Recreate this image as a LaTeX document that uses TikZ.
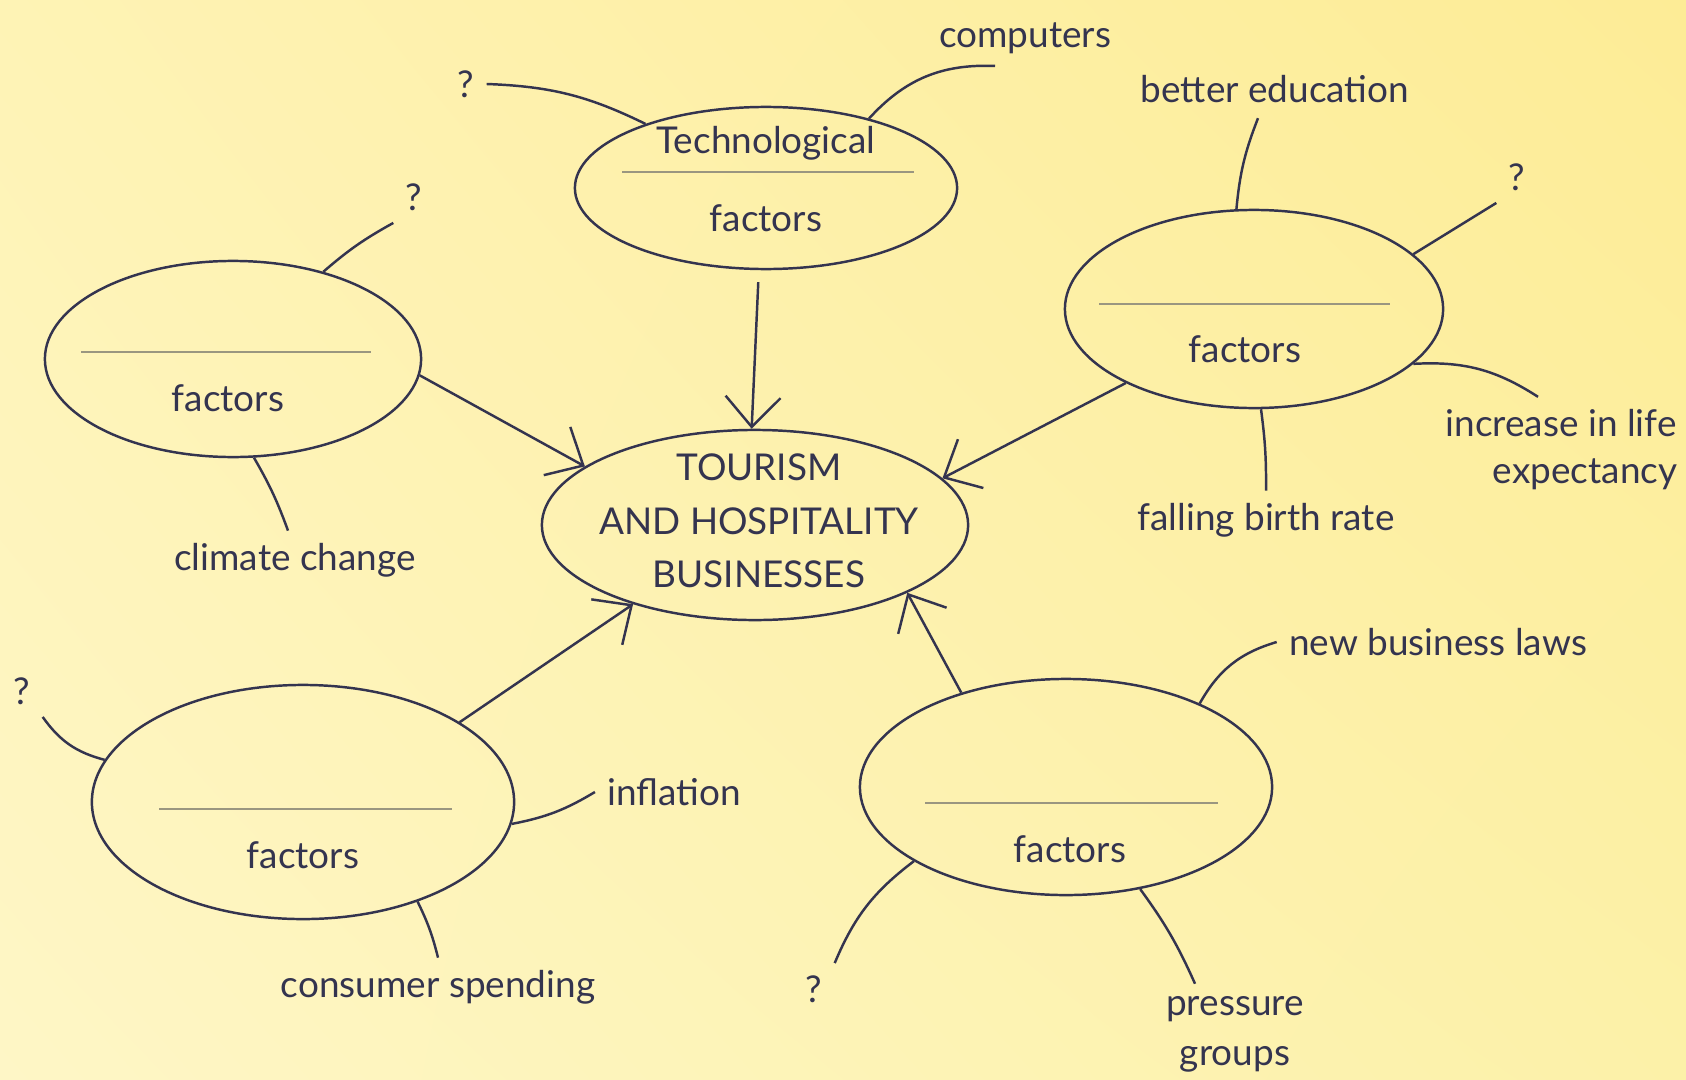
\documentclass[tikz,border=0pt]{standalone}
\usepackage{fontspec}
\setmainfont{Lato}
\usepackage{xcolor}
\usetikzlibrary{shapes.geometric,arrows.meta,calc,shadings}
\definecolor{ink}{HTML}{34344F}
\definecolor{rule}{HTML}{9A9680}
\definecolor{bgTL}{HTML}{FEF3B5}
\definecolor{bgTR}{HTML}{FDEC96}
\definecolor{bgBL}{HTML}{FEF6C6}
\definecolor{bgBR}{HTML}{FCF1A8}

\begin{document}
\begin{tikzpicture}[
  x=0.01cm, y=-0.01cm,
  every node/.style={font=\fontsize{10.5}{13}\selectfont,text=ink},
  bubble/.style={ellipse,draw=ink,line width=0.7pt,inner sep=0pt},
  spoke/.style={draw=ink,line width=0.7pt},
  arrow/.style={draw=ink,line width=0.7pt,-{Straight Barb[length=3mm,width=5.5mm]}},
  divider/.style={draw=rule,line width=0.45pt}
]
% background
\shade[upper left=bgTL,upper right=bgTR,lower left=bgBL,lower right=bgBR] (0,0) rectangle (1686,1079);
\useasboundingbox (0,0) rectangle (1686,1079);

% bubbles
\node[bubble,minimum width=4.26cm,minimum height=1.90cm] (hub) at (755,525) {};
\node[bubble,minimum width=3.82cm,minimum height=1.62cm] (tech) at (766,188) {};
\node[bubble,minimum width=3.76cm,minimum height=1.96cm] (left) at (233,359) {};
\node[bubble,minimum width=3.78cm,minimum height=1.98cm] (right) at (1254,309) {};
\node[bubble,minimum width=4.22cm,minimum height=2.34cm] (botl) at (303,802) {};
\node[bubble,minimum width=4.12cm,minimum height=2.16cm] (botr) at (1066,787) {};

% texts inside
\node[align=center,font=\fontsize{10.5}{15.2}\selectfont] (hubtxt) at (759,521) {TOURISM\\AND HOSPITALITY\\BUSINESSES};
\node (techname) at (766,143) {Technological};
\node (techfac) at (766,218) {factors};
\node (leftfac) at (228,398) {factors};
\node (rightfac) at (1245,349) {factors};
\node (botlfac) at (303,855) {factors};
\node (botrfac) at (1070,849) {factors};

% blank lines to fill in
\draw[divider] (622,172) -- (914,172);
\draw[divider] (81,352) -- (371,352);
\draw[divider] (1099,304) -- (1390,304);
\draw[divider] (159,809) -- (452,809);
\draw[divider] (925,803) -- (1218,803);

% arrows into the hub
\draw[arrow,shorten <=0.12cm] (tech.265) -- (hub.92);
\draw[arrow] (left.355) -- (hub.161);
\draw[arrow] (right.210) -- (hub.14);
\draw[arrow] (botl.27) -- (hub.213);
\draw[arrow] (botr.138) -- (hub.336);

% technological
\node (techq) at (466,84) {?};
\node (comp) at (1025,38) {computers};
\draw[spoke] (techq.east) to[bend left=12] (tech.152);
\draw[spoke] ($(comp.south)+(-30,0)$) to[bend right=25] (tech.34);

% right bubble
\node (edu) at (1275,89) {better education};
\node (rightq) at (1517,177) {?};
\node (life1) at (1561,423) {increase in life};
\node (life2) at (1585,474) {expectancy};
\node (birth) at (1266,520) {falling birth rate};
\draw[spoke] ($(edu.south)+(-17,3)$) to[bend right=8] (right.100);
\draw[spoke] (rightq.south west) -- (right.19);
\draw[spoke] (right.341) to[bend left=18] ($(life1.north)+(-23,0)$);
\draw[spoke] (right.274) to[bend left=4] (birth.north);

% left bubble
\node (leftq) at (414,197) {?};
\node (climate) at (295,560) {climate change};
\draw[spoke] (leftq.south west) to[bend right=6] (left.44);
\draw[spoke] (left.282) to[bend left=5] ($(climate.north)+(-7,0)$);

% bottom left bubble
\node (botlq) at (22,691) {?};
\node (infl) at (674,792) {inflation};
\node (cons) at (438,987) {consumer spending};
\draw[spoke] (botlq.south east) to[bend right=20] (botl.168);
\draw[spoke] (infl.west) to[bend left=10] (botl.354);
\draw[spoke] (botl.319) to[bend left=6] (cons.north);

% bottom right bubble
\node (laws) at (1438,642) {new business laws};
\node (botrq) at (814,989) {?};
\node[align=center,font=\fontsize{10.5}{14.2}\selectfont] (press) at (1235,1034) {pressure\\groups};
\draw[spoke] (laws.west) to[bend right=22] (botr.32);
\draw[spoke] (botrq.north east) to[bend left=15] (botr.206);
\draw[spoke] (botr.306) to[bend left=6] ($(press.north)+(-40,0)$);
\end{tikzpicture}
\end{document}
